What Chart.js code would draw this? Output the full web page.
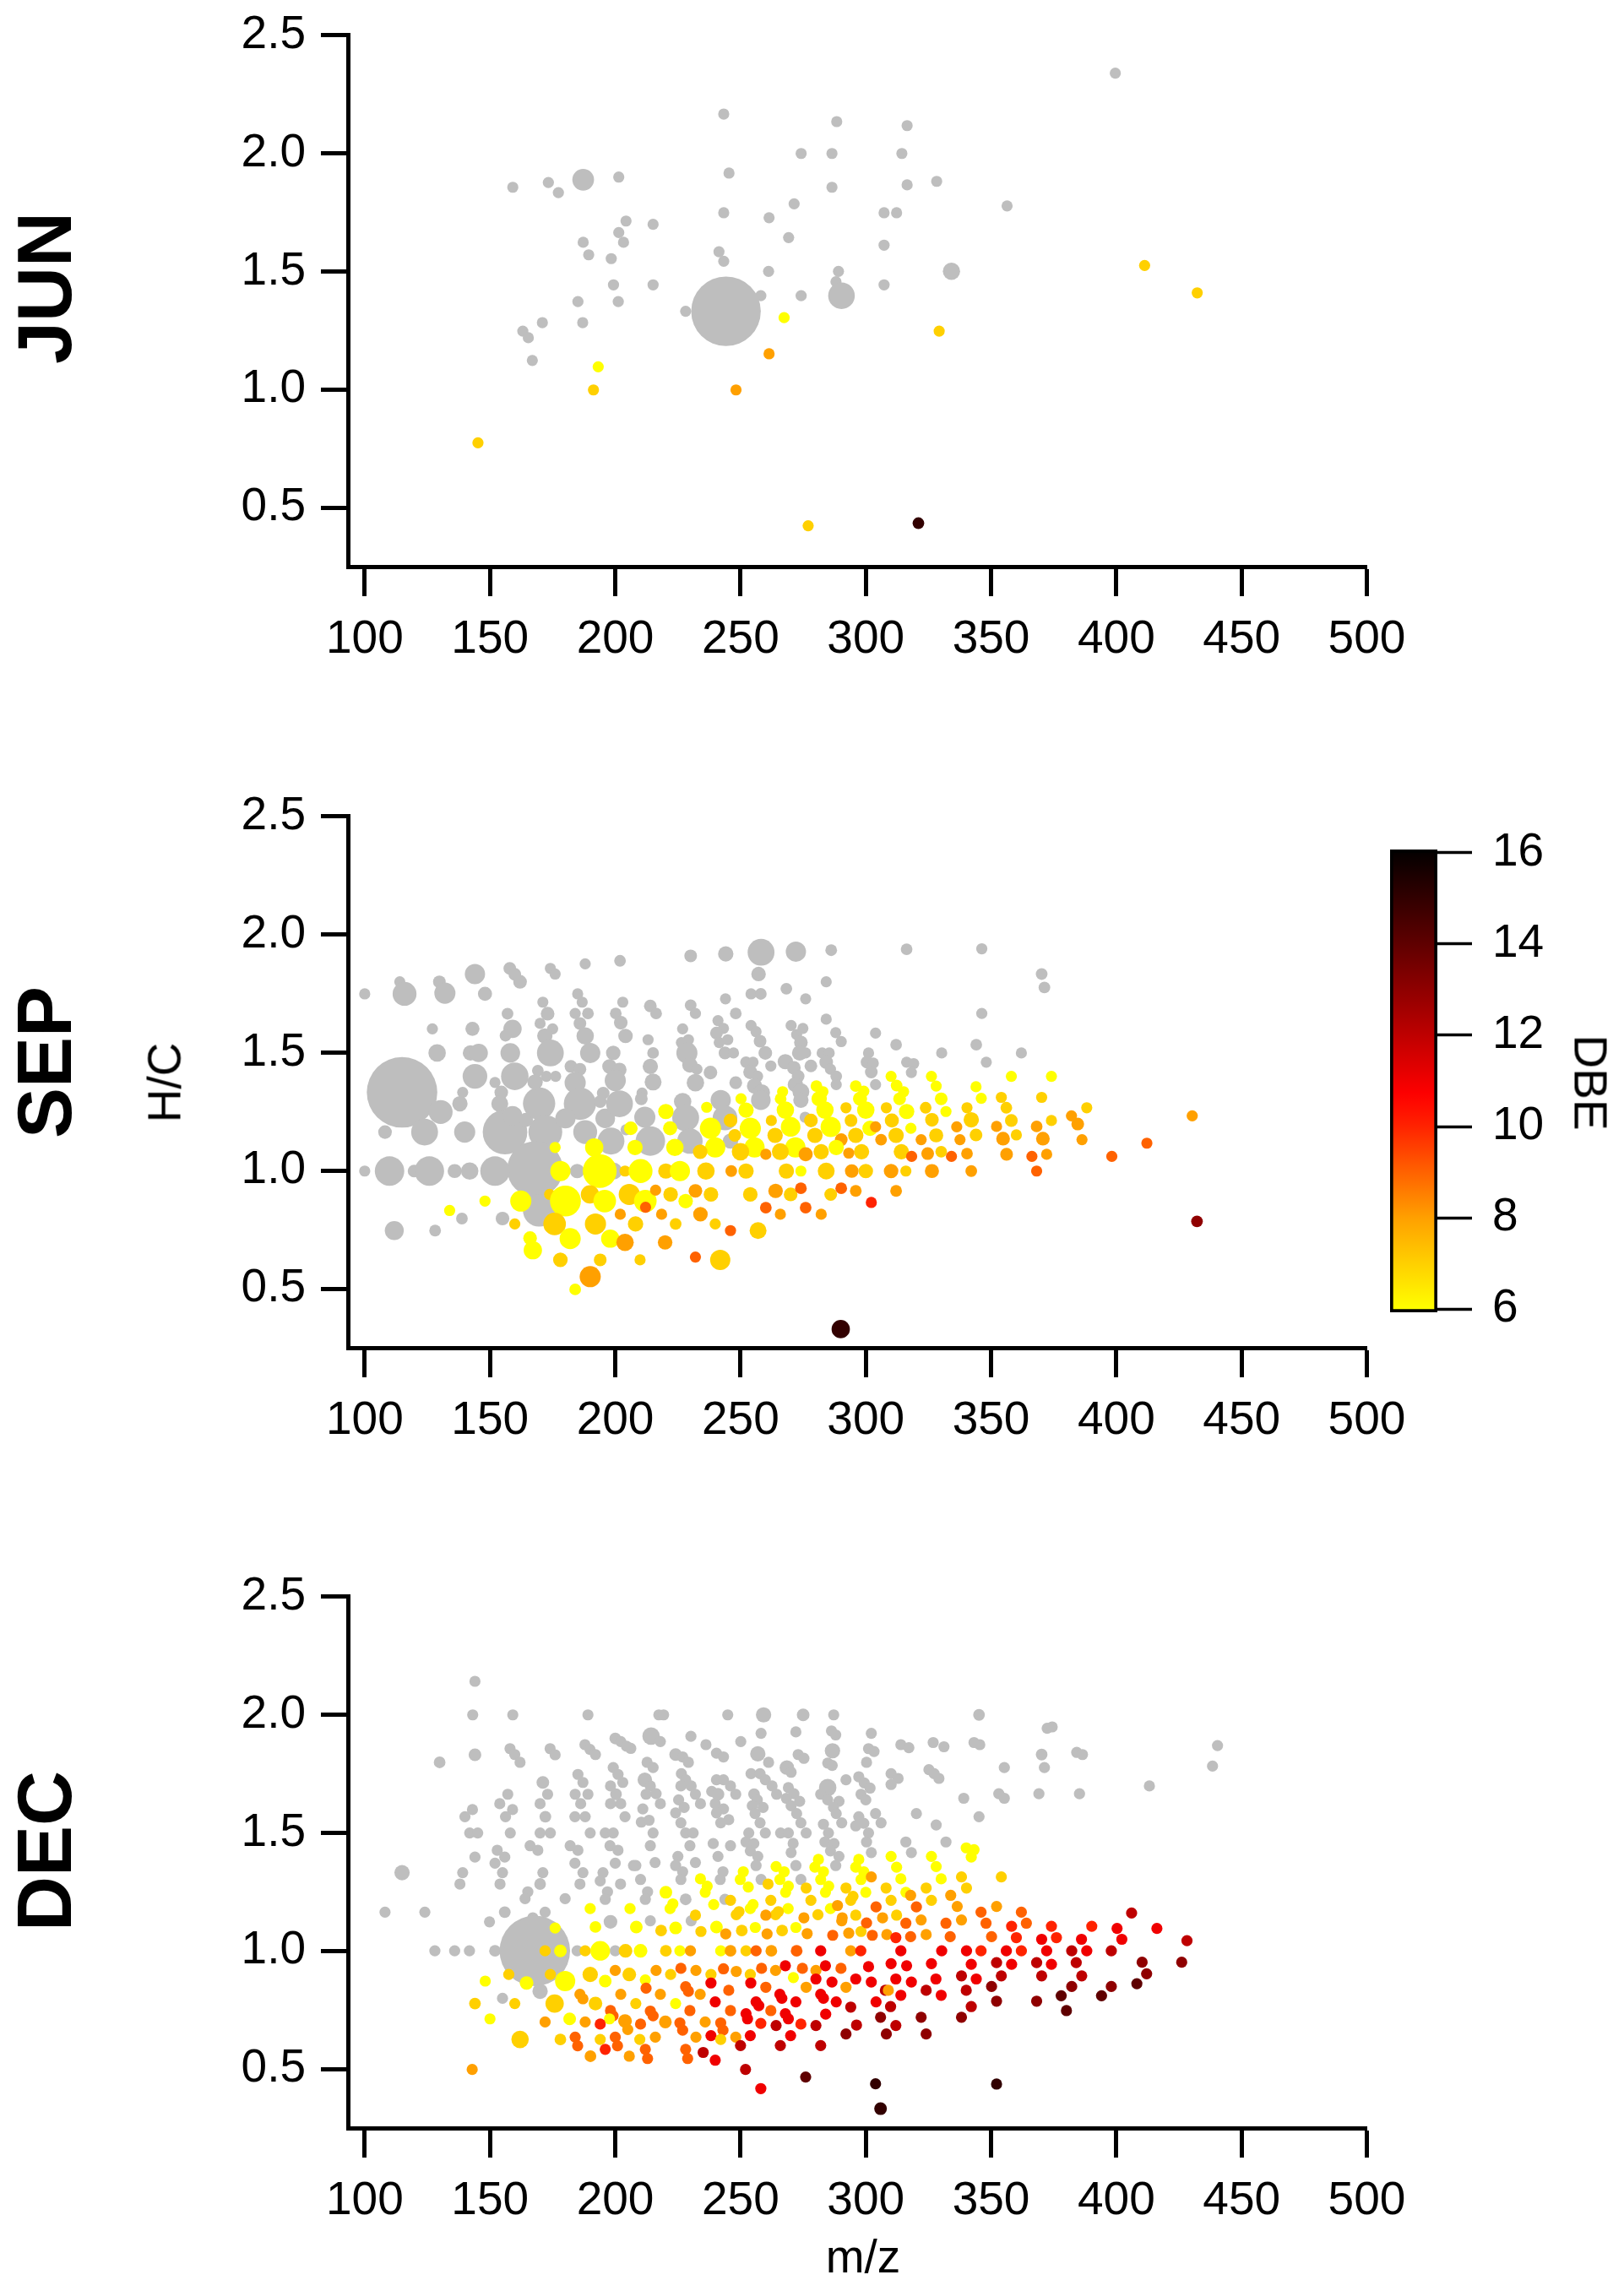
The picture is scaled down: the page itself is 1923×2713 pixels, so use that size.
<!DOCTYPE html>
<html><head><meta charset="utf-8">
<script src="https://cdn.jsdelivr.net/npm/chart.js@4.4.1/dist/chart.umd.min.js"></script>
<style>
html,body{margin:0;padding:0;background:#fff;}
body{width:1923px;height:2713px;position:relative;overflow:hidden;font-family:'Liberation Sans',Arial,sans-serif;}
canvas{position:absolute;}
.lbl{position:absolute;white-space:nowrap;line-height:1;color:#000;font-size:55px;transform:translate(-50%,-50%);}
.row{font-size:90px;font-weight:bold;transform:translate(-50%,-50%) rotate(-90deg);}
.rotl{transform:translate(-50%,-50%) rotate(-90deg);}
.rotr{transform:translate(-50%,-50%) rotate(90deg);}
</style></head><body>
<canvas id="c0" width="1923" height="860" style="left:0;top:0px;width:1923px;height:860px"></canvas>
<canvas id="c1" width="1923" height="860" style="left:0;top:925.3px;width:1923px;height:860px"></canvas>
<canvas id="c2" width="1923" height="860" style="left:0;top:1848.6px;width:1923px;height:860px"></canvas>
<canvas id="cb" width="323" height="650" style="left:1600px;top:960px;width:323px;height:650px"></canvas>
<div class="lbl row" style="left:52.5px;top:341px">JUN</div>
<div class="lbl row" style="left:52.5px;top:1258px">SEP</div>
<div class="lbl row" style="left:52.5px;top:2192px">DEC</div>
<div class="lbl rotl" style="left:195px;top:1282px">H/C</div>
<div class="lbl" style="left:1022px;top:2672px">m/z</div>
<div class="lbl rotr" style="left:1883px;top:1282px">DBE</div>
<script>
// ---- axis ticks ----
const xTicks = [100,150,200,250,300,350,400,450,500];
const yTicks = [0.5,1.0,1.5,2.0,2.5];
const dbeTicks = [6,8,10,12,14,16];
const panelNames = ['JUN','SEP','DEC'];

// ---- data: grey = DBE below colour scale: [m/z, H/C, relative intensity] ----
// ---- coloured: [m/z, H/C, DBE, relative intensity] ----
const junGrey = [
[243.3,2.166,1],[288.4,2.134,1],[316.5,2.117,1],[274.2,1.999,1],[286.5,1.999,1],[314.4,1.999,1],[187.2,1.888,3.8],[159.1,1.856,1],[173.3,1.876,1],[177.3,1.833,1],
[201.4,1.899,1],[245.4,1.916,1],[286.5,1.856,1],[316.5,1.866,1],[328.3,1.881,1],[356.4,1.777,1],[271.4,1.786,1],[243.3,1.748,1],[261.4,1.727,1],[307.3,1.748,1],
[312.3,1.748,1],[204.3,1.713,1],[215.1,1.699,1],[201.4,1.664,1],[203.3,1.623,1],[187.2,1.623,1],[189.4,1.570,1],[198.4,1.554,1],[269.2,1.643,1],[307.3,1.611,1],
[241.4,1.583,1],[243.3,1.543,1],[261.2,1.500,1],[289.1,1.500,1],[334.2,1.500,2.4],[288.1,1.456,1],[290.3,1.397,5.7],[307.3,1.443,1],[199.3,1.443,1],[215.1,1.443,1],
[258.1,1.397,1],[274.2,1.397,1],[185.1,1.372,1],[201.2,1.372,1],[228.1,1.331,1],[244.2,1.331,39],[170.9,1.283,1],[187.0,1.283,1],[163.1,1.247,1],[165.3,1.219,1],
[166.9,1.123,1],[399.6,2.339,1]
];
const junColored = [
[267.4,1.304,6,1],[329.3,1.247,7,1],[261.4,1.151,8,1],[193.2,1.096,6,1],[191.3,0.998,7,1],[248.2,0.998,8,1],[145.2,0.774,7,1],[411.3,1.525,7,1],[432.3,1.409,7,1],
[277.0,0.423,7,1],[321.0,0.434,15,1.1]
];

const sepGrey = [
[100.0,1.748,1],[114.0,1.799,1],[115.9,1.748,4.6],[129.8,1.799,1.3],[132.0,1.751,3.6],[144.0,1.832,3.3],[148.0,1.748,1.6],[157.9,1.856,1.3],[159.9,1.831,1.3],[162.0,1.799,1.5],
[174.1,1.856,1],[176.0,1.832,1],[188.0,1.875,1],[201.9,1.888,1.1],[157.0,1.664,1.1],[127.0,1.600,1],[143.0,1.600,1.6],[159.0,1.600,2.7],[156.2,1.571,1.1],[128.9,1.498,2.45],
[142.2,1.498,1.9],[145.5,1.498,2.7],[158.1,1.498,3.1],[171.1,1.713,1],[173.0,1.664,1.5],[170.0,1.623,1],[175.0,1.600,1],[171.9,1.570,1.9],[174.1,1.498,5.8],[185.0,1.748,1],
[186.8,1.713,1],[184.0,1.665,1],[189.1,1.665,1.1],[185.9,1.623,1.3],[188.0,1.570,2.45],[190.0,1.498,3.3],[203.0,1.713,1],[200.2,1.665,1.1],[202.2,1.626,1.5],[204.1,1.570,1.7],
[199.2,1.498,1.7],[197.7,1.441,1.7],[201.7,1.427,1.6],[200.0,1.381,3.6],[214.0,1.697,1.3],[216.3,1.665,1.1],[213.1,1.554,1],[215.1,1.498,1.1],[214.0,1.441,1.9],[215.1,1.375,2.3],
[114.9,1.331,40],[130.3,1.248,4.6],[123.9,1.163,5.8],[108.1,1.163,1.5],[139.1,1.331,1],[138.0,1.283,1.9],[139.9,1.163,3.6],[144.0,1.399,4.9],[152.0,1.373,1],[154.5,1.331,1.5],
[153.9,1.283,2.3],[159.9,1.399,6.1],[156.0,1.163,16],[159.0,1.232,3.1],[164.4,1.215,1.6],[169.6,1.284,8.4],[169.1,1.423,1.1],[172.5,1.399,1],[176.2,1.399,1],[168.0,1.375,1.9],
[172.1,1.163,9.2],[168.0,1.006,25],[169.6,0.831,8.4],[182.3,1.441,1.3],[185.9,1.429,1.3],[184.0,1.372,3.6],[185.9,1.283,8.4],[180.1,1.221,3.3],[188.0,1.163,4.6],[195.2,1.328,1.3],
[194.0,1.292,1.3],[196.0,1.221,3.1],[201.7,1.283,5.8],[198.3,1.125,5.8],[210.7,1.328,1],[210.4,1.304,1.3],[211.8,1.226,3.6],[214.0,1.125,7],[204.3,1.173,1],
[100.0,0.998,1],[109.9,0.998,7],[119.7,0.998,1.3],[125.8,0.998,7],[135.9,0.998,1.6],[141.9,0.998,2.45],[152.0,0.998,7],[184.8,0.998,1.7],[199.4,0.998,2.3],
[111.8,0.746,2.9],[128.1,0.746,1.1],[138.8,0.797,1.1],[155.0,0.797,1.5],
[230.1,1.909,1.3],[244.1,1.917,1.9],[258.2,1.924,5.8],[272.1,1.927,3.3],[286.2,1.933,1.1],[316.3,1.937,1.1],[257.2,1.832,1.7],[268.3,1.770,1.1],[254.2,1.748,1],[258.1,1.748,1.1],
[284.2,1.799,1],[276.0,1.727,1],[244.0,1.727,1],[230.1,1.700,1.1],[232.0,1.665,1],[248.1,1.665,1.1],[284.2,1.641,1],[241.0,1.635,1],[243.2,1.602,1],[240.4,1.582,1.3],
[244.9,1.554,1],[241.5,1.542,1],[243.8,1.498,1.3],[247.2,1.498,1],[226.9,1.600,1],[229.2,1.554,1],[226.4,1.542,1],[228.6,1.498,3.6],[229.8,1.447,1.9],[232.6,1.429,1],
[232.0,1.372,2.45],[238.0,1.415,1.5],[254.2,1.614,1],[256.2,1.588,1],[257.8,1.548,1.3],[259.9,1.498,1.5],[270.2,1.614,1],[274.9,1.602,1],[272.4,1.576,1],[274.1,1.542,1.5],
[273.6,1.498,1.9],[276.0,1.498,1],[252.2,1.459,1.1],[255.0,1.459,1],[253.9,1.417,1.6],[256.7,1.399,1.1],[255.6,1.358,1.9],[258.4,1.330,2.3],[258.1,1.298,3.1],[262.1,1.443,1],
[267.9,1.461,1.9],[271.3,1.435,1.5],[273.0,1.399,1.3],[271.9,1.364,1.9],[274.1,1.334,2.3],[274.1,1.298,1.9],[278.1,1.443,1.3],[282.6,1.498,1],[285.4,1.498,1],[284.2,1.459,1.5],
[285.9,1.429,1],[288.2,1.399,1.1],[288.2,1.364,1],[290.2,1.546,1],[288.0,1.584,1],[303.9,1.582,1],[301.1,1.498,1],[300.5,1.459,1.3],[303.0,1.455,1],[302.2,1.417,1.3],
[303.9,1.364,1],[312.1,1.533,1.1],[316.3,1.459,1],[319.1,1.453,1],[318.2,1.415,1],[330.3,1.498,1],[248.1,1.372,1.3],[242.1,1.298,3.3],[243.8,1.223,4.9],[226.9,1.292,2.45],
[228.1,1.223,5.8],[229.8,1.125,5.2],[246.0,1.125,1.9],[275.8,1.226,1],
[346.3,1.939,1],[370.2,1.832,1.1],[371.3,1.775,1.1],[346.3,1.665,1],[344.1,1.533,1.1],[348.1,1.459,1],[362.1,1.498,1]
];
const sepColored = [
[176.0,1.098,6,1],[206.2,1.179,6,1.5],[207.9,1.098,6,1.9],[191.6,1.098,6,2.7],[178.1,0.998,6,3.3],[193.8,0.998,6,9.2],[203.9,0.998,7,1],[210.1,0.998,6,4.6],[162.3,0.871,6,3.6],[173.8,0.899,7,1],
[180.1,0.871,6,7.7],[189.9,0.899,7,2.7],[195.8,0.871,6,4.1],[205.6,0.899,7,3.6],[212.0,0.871,6,4.1],[212.1,0.845,9,1],[216.1,0.917,8,1],[202.0,0.815,8,1],[208.1,0.774,7,1.9],
[192.1,0.774,7,3.6],[175.8,0.774,7,4.1],[159.9,0.774,7,1],[148.0,0.871,6,1],[133.9,0.831,6,1],[166.0,0.714,6,1.5],[167.1,0.663,6,2.7],[182.0,0.712,6,3.6],[198.0,0.712,6,2.7],[203.9,0.696,8,2.45],
[178.1,0.622,7,1.7],[194.0,0.622,7,1.3],[209.9,0.622,7,1],[190.0,0.551,8,3.6],[184.0,0.497,6,1.1],
[310.1,1.399,6,1],[326.2,1.399,6,1],[280.3,1.358,6,1.1],[296.0,1.358,6,1.1],[312.3,1.360,6,1.1],[328.1,1.358,6,1],[282.9,1.334,6,1],[299.2,1.336,6,1],[315.1,1.334,6,1],[266.8,1.334,6,1],
[266.0,1.304,6,1.1],[250.2,1.304,6,1],[281.4,1.304,6,1.9],[297.7,1.304,6,1.6],[313.5,1.304,6,1.3],[330.1,1.304,6,1.3],[252.2,1.256,6,1.9],[267.9,1.256,6,2.45],[283.7,1.256,6,2.45],[300.0,1.256,6,2.45],
[316.3,1.250,6,1.9],[332.0,1.250,6,1],[236.5,1.268,6,1],[220.2,1.250,6,1.9],[292.1,1.266,7,1],[308.2,1.266,7,1],[323.9,1.266,7,1.1],[262.3,1.212,7,1],[246.0,1.212,7,1.5],[278.1,1.212,7,1.5],
[294.1,1.212,7,1.3],[310.4,1.212,7,1.6],[326.4,1.215,7,1.5],[221.9,1.179,6,1.6],[238.0,1.179,6,3.6],[253.9,1.179,6,3.6],[270.0,1.185,6,3.1],[286.0,1.185,6,3.3],[301.7,1.179,6,1.9],[318.0,1.179,6,1],
[303.9,1.185,8,1],[336.3,1.185,8,1],[247.7,1.149,7,1.3],[263.8,1.149,7,1.9],[279.7,1.149,7,1.9],[296.0,1.149,7,1.9],[312.1,1.149,7,1.9],[328.1,1.149,7,1.6],[290.2,1.131,8,1.3],[306.1,1.131,8,1.1],
[322.1,1.131,8,1],[337.6,1.131,8,1],[223.8,1.098,6,2.45],[239.9,1.098,6,3.3],[255.6,1.098,6,3.3],[271.9,1.098,6,3.3],[288.2,1.098,6,1.9],[233.9,1.080,7,1.7],[250.0,1.080,7,2.45],[265.9,1.080,7,2.3],
[282.2,1.080,7,1.9],[298.3,1.080,7,1.9],[314.2,1.080,7,1.9],[330.1,1.080,7,1.1],[260.1,1.069,8,1],[276.0,1.069,8,1.6],[293.2,1.074,8,1],[324.7,1.072,8,1.3],[318.3,1.060,9,1],[334.2,1.060,9,1],
[220.2,0.998,7,1.9],[225.8,0.998,6,3.3],[236.2,0.998,7,2.45],[246.3,0.998,8,1.1],[252.2,0.998,7,1.9],[268.3,0.998,7,1.9],[274.1,0.998,6,1],[284.2,0.998,7,2.3],[294.4,0.998,8,1.5],[300.0,0.998,7,1.7],
[310.1,0.998,8,1.7],[316.0,0.998,7,1],[326.4,0.998,8,1.6],[222.1,0.899,7,1.7],[228.1,0.871,6,1.7],[232.0,0.914,8,1.5],[238.2,0.899,7,1.7],[253.9,0.899,7,1.7],[264.0,0.914,8,1.7],[270.0,0.899,7,1.5],
[274.1,0.925,9,1.1],[286.0,0.899,7,1.3],[290.2,0.925,9,1.1],[296.0,0.914,8,1.1],[312.1,0.914,8,1.1],[302.2,0.865,10,1],[218.5,0.815,8,1],[234.0,0.815,8,1.7],[260.1,0.843,9,1.1],[265.9,0.815,8,1],
[276.0,0.843,9,1.1],[282.2,0.815,8,1],[224.1,0.774,7,1.1],[239.9,0.774,7,1],[246.0,0.746,9,1],[257.0,0.746,7,2.3],[219.9,0.696,8,1.7],[232.0,0.634,9,1],[241.9,0.622,7,3.3],[290.0,0.329,15,2.7],
[358.1,1.399,6,1],[374.1,1.399,6,1],[344.0,1.355,6,1],[346.1,1.306,6,1],[354.1,1.310,7,1],[370.2,1.310,7,1],[340.4,1.266,7,1],[356.1,1.266,7,1.1],[388.2,1.266,7,1],[342.1,1.215,7,1.9],
[358.1,1.212,7,1.3],[374.1,1.212,7,1],[382.1,1.232,8,1],[384.6,1.197,8,1.3],[352.2,1.187,8,1],[368.2,1.187,8,1.1],[344.0,1.151,7,1.3],[360.1,1.151,7,1],[354.8,1.135,8,1.5],[370.7,1.135,8,1.5],
[386.3,1.131,8,1],[340.4,1.072,8,1.1],[356.2,1.069,8,1.3],[372.2,1.069,8,1],[366.3,1.060,9,1],[398.2,1.060,9,1],[412.2,1.116,9,1],[430.3,1.232,8,1],[342.1,0.998,8,1.1],[368.2,0.998,9,1],
[432.2,0.785,13,1.1]
];

const decGrey = [
[144.0,2.141,1],[143.1,1.999,1],[159.1,1.999,1],[189.1,1.999,1],[129.9,1.798,1.1],[144.0,1.830,1.3],[158.0,1.856,1],[159.9,1.831,1],[162.0,1.798,1],[174.0,1.856,1],
[176.0,1.830,1],[187.9,1.873,1],[189.9,1.853,1],[192.1,1.831,1],[200.0,1.899,1.1],[202.2,1.886,1],[204.5,1.866,1],[206.2,1.857,1],[171.1,1.713,1.3],[173.0,1.663,1],
[185.1,1.747,1],[187.1,1.713,1],[184.0,1.663,1],[189.1,1.663,1],[186.2,1.623,1],[183.9,1.568,1],[188.0,1.568,1],[199.2,1.776,1],[201.1,1.747,1],[203.0,1.713,1],
[198.1,1.698,1],[200.3,1.663,1.1],[198.1,1.623,1],[202.2,1.623,1],[203.9,1.568,1],[157.1,1.663,1],[153.9,1.623,1],[159.0,1.598,1],[156.2,1.568,1],[143.0,1.598,1],
[140.0,1.568,1],[170.0,1.623,1],[172.1,1.568,1.1],[141.9,1.499,1],[145.1,1.499,1],[158.1,1.499,1],[170.0,1.499,1],[174.1,1.499,1],[190.0,1.499,1],[196.0,1.499,1],
[199.2,1.499,1],[166.0,1.445,1],[169.1,1.426,1],[182.0,1.445,1],[185.1,1.426,1],[197.9,1.445,1],[201.1,1.426,1],[152.9,1.426,1],[155.9,1.397,1],[144.0,1.397,1],
[152.0,1.371,1],[155.0,1.331,1],[154.0,1.283,1],[139.1,1.331,1],[138.0,1.283,1],[114.9,1.331,1.9],[171.1,1.331,1],[170.0,1.283,1.1],[183.9,1.371,1],[187.1,1.331,1],
[185.9,1.283,1],[200.0,1.371,1],[195.1,1.331,1],[194.0,1.296,1],[202.1,1.283,1],[196.9,1.250,1],[196.0,1.218,1],[207.3,1.361,1],[165.1,1.250,1],[164.0,1.221,1],
[180.0,1.221,1],[108.1,1.164,1],[124.0,1.164,1],[155.9,1.164,1.1],[172.0,1.164,1],[167.1,1.140,1],[149.8,1.123,1],[198.1,1.123,1.5],[128.0,1.000,1],[135.9,1.000,1],
[141.8,1.000,1],[152.0,1.000,1.1],[184.8,1.000,1],[200.0,1.000,1],[167.9,1.000,40],[170.0,0.829,1.9],[155.0,0.799,1],
[217.4,1.999,1],[219.3,1.999,1],[244.9,1.999,1],[259.2,1.999,1.9],[275.0,1.999,1.3],[287.2,1.999,1],[214.3,1.909,2.45],[218.0,1.886,1],[230.2,1.908,1],[236.2,1.873,1],
[250.1,1.886,1],[258.2,1.921,1],[272.1,1.927,1],[286.3,1.931,1],[288.0,1.914,1],[302.2,1.921,1],[224.1,1.831,1.3],[226.9,1.821,1],[229.2,1.798,1],[240.4,1.837,1],
[243.2,1.821,1],[256.9,1.834,1.9],[261.2,1.798,1],[273.0,1.831,1],[275.3,1.815,1],[286.7,1.847,1.9],[284.8,1.795,1],[286.6,1.785,1],[301.1,1.856,1],[303.3,1.844,1],
[300.3,1.798,1],[314.0,1.873,1],[317.2,1.860,1],[326.9,1.882,1],[331.2,1.864,1],[212.7,1.798,1],[215.1,1.776,1],[211.8,1.724,1.7],[214.0,1.698,1],[216.3,1.665,1],
[212.3,1.663,1],[226.4,1.750,1],[228.1,1.724,1],[226.2,1.698,1],[230.3,1.698,1],[232.0,1.663,1],[225.3,1.639,1],[227.5,1.607,1],[224.1,1.584,1],[226.2,1.542,1],
[218.0,1.623,1],[234.0,1.623,1],[211.0,1.601,1],[210.4,1.545,1],[213.5,1.553,1],[215.1,1.499,1],[214.0,1.445,1],[240.4,1.724,1],[243.2,1.724,1],[246.0,1.698,1],
[238.5,1.675,1],[241.0,1.663,1.3],[248.1,1.663,1],[239.9,1.623,1],[243.2,1.601,1],[240.4,1.584,1],[245.3,1.555,1],[242.1,1.542,1],[254.2,1.750,1],[257.8,1.750,1],
[259.9,1.724,1],[262.6,1.698,1],[264.4,1.663,1],[255.4,1.663,1.1],[256.7,1.639,1],[254.7,1.614,1],[259.0,1.607,1],[255.8,1.581,1],[257.8,1.542,1],[268.5,1.776,1.7],
[270.2,1.756,1],[269.1,1.691,1],[271.3,1.665,1],[268.3,1.646,1],[273.6,1.633,1],[270.2,1.614,1],[272.4,1.581,1],[274.1,1.542,1],[284.8,1.691,2.45],[282.0,1.663,1],
[284.8,1.639,1],[289.3,1.633,1],[287.1,1.607,1],[288.2,1.581,1],[290.4,1.542,1],[292.1,1.724,1],[297.2,1.737,1],[299.4,1.711,1],[301.7,1.689,1],[298.1,1.663,1],
[300.0,1.639,1],[297.2,1.568,1],[299.2,1.540,1],[296.0,1.529,1],[303.9,1.581,1],[306.1,1.542,1],[310.1,1.750,1],[312.9,1.730,1],[310.1,1.704,1],[320.2,1.581,1],
[325.2,1.767,1],[327.3,1.750,1],[329.2,1.730,1],[328.1,1.533,1],[332.0,1.461,1],[283.1,1.536,1],[285.1,1.499,1],[283.7,1.461,1],[287.3,1.454,1],[285.9,1.423,1],
[289.3,1.400,1],[288.0,1.361,1],[301.1,1.499,1],[300.3,1.461,1],[302.2,1.416,1],[316.0,1.461,1],[318.2,1.416,1],[253.3,1.499,1],[252.2,1.461,1],[255.3,1.454,1],
[253.9,1.423,1],[256.9,1.400,1],[256.2,1.361,1],[259.9,1.499,1],[266.0,1.499,1],[269.1,1.499,1],[276.2,1.499,1],[271.0,1.455,1],[270.2,1.416,1],[272.1,1.361,1],
[274.1,1.302,1],[228.1,1.499,1],[231.1,1.499,1],[229.8,1.445,1],[225.0,1.400,1],[224.1,1.361,1],[232.0,1.374,1],[226.9,1.335,1],[226.2,1.302,1],[239.1,1.454,1],
[241.0,1.400,1],[246.0,1.445,1],[243.0,1.335,1],[241.9,1.302,1],[215.9,1.374,1],[208.2,1.361,1],[210.1,1.302,1],[212.9,1.250,1],[212.0,1.218,1],[214.0,1.127,1],
[228.1,1.218,1.1],[230.3,1.127,1],[243.8,1.218,1],[258.2,1.302,1],
[345.2,1.999,1.1],[372.4,1.942,1],[374.4,1.948,1],[343.2,1.882,1],[345.5,1.873,1],[370.2,1.831,1.1],[371.3,1.776,1],[355.3,1.776,1],[384.2,1.840,1],[386.5,1.831,1],
[440.4,1.869,1],[438.4,1.782,1],[413.2,1.698,1],[339.1,1.646,1],[353.1,1.665,1],[355.3,1.646,1],[369.1,1.665,1],[385.3,1.665,1],[345.2,1.568,1]
];
const decColored = [
[190.0,1.179,6,1],[205.9,1.179,6,1],[192.1,1.101,6,1.1],[176.0,1.097,6,1],[172.0,1.000,7,1],[178.1,1.000,6,1.3],[188.0,1.000,7,1],[194.0,1.000,6,3.1],[204.1,1.000,7,1.5],[200.0,0.917,8,1],
[205.6,0.900,7,1.5],[190.0,0.900,7,1.9],[196.0,0.872,6,1.3],[180.0,0.872,6,3.3],[174.1,0.900,7,1],[157.5,0.900,7,1],[164.6,0.864,6,1.5],[148.1,0.872,6,1],[185.9,0.816,8,1],[187.1,0.797,8,1],
[192.1,0.777,7,1.5],[202.2,0.816,8,1],[144.0,0.777,7,1.1],[159.9,0.777,7,1],[175.8,0.777,7,2.7],[198.1,0.747,9,1],[199.1,0.725,9,1],[197.7,0.712,6,1],[194.0,0.690,10,1],[188.0,0.699,8,1],
[203.9,0.703,8,1.5],[205.0,0.667,8,1],[150.0,0.712,6,1],[181.8,0.712,6,1.3],[172.0,0.699,8,1],[162.0,0.625,7,2.45],[178.1,0.625,7,1.1],[184.0,0.635,9,1],[185.0,0.598,9,1],[194.0,0.625,7,1],
[200.0,0.635,9,1],[200.9,0.598,9,1],[196.0,0.583,10,1],[190.1,0.554,8,1.1],[205.6,0.554,8,1],[142.9,0.498,8,1],
[281.1,1.387,6,1],[297.2,1.387,6,1],[310.1,1.400,6,1],[326.2,1.400,6,1],[279.7,1.354,6,1],[296.0,1.354,6,1],[312.3,1.354,6,1],[328.1,1.357,6,1],[264.2,1.357,6,1],[251.1,1.335,6,1],
[249.9,1.302,6,1],[267.4,1.335,6,1],[265.7,1.302,6,1],[283.1,1.335,6,1],[282.0,1.302,6,1],[299.2,1.335,6,1],[298.1,1.302,6,1],[314.0,1.305,6,1],[330.1,1.305,6,1],[302.2,1.313,8,1],
[234.0,1.305,6,1],[236.7,1.274,6,1],[235.9,1.248,6,1],[253.1,1.270,6,1],[261.0,1.283,7,1],[269.1,1.274,6,1],[268.0,1.248,6,1],[276.2,1.266,7,1],[285.2,1.274,6,1],[283.9,1.248,6,1],
[292.1,1.266,7,1],[300.0,1.248,6,1],[308.1,1.266,7,1],[316.0,1.248,6,1],[324.1,1.266,7,1],[220.2,1.248,6,1.3],[246.0,1.214,7,1],[239.3,1.196,6,1],[262.1,1.214,7,1],[278.1,1.214,7,1],
[294.0,1.214,7,1],[294.9,1.231,7,1],[310.1,1.214,7,1],[326.2,1.214,7,1],[317.9,1.235,8,1],[333.9,1.235,8,1],[223.0,1.199,6,1],[221.9,1.179,6,1],[255.0,1.196,6,1],[253.9,1.179,6,1],
[269.0,1.179,6,1],[285.9,1.179,6,1],[288.7,1.192,8,1],[232.0,1.151,7,1],[248.3,1.153,7,1],[249.4,1.166,7,1],[264.0,1.153,7,1],[265.1,1.166,7,1],[260.1,1.151,8,1],[280.9,1.153,7,1],
[296.0,1.151,7,1],[304.1,1.186,9,1],[312.3,1.151,7,1],[320.2,1.186,9,1],[290.6,1.140,8,1],[290.4,1.127,8,1],[275.3,1.140,8,1],[306.7,1.140,8,1],[322.1,1.131,8,1],[208.4,1.101,6,1.3],
[218.3,1.086,7,1.1],[224.1,1.097,6,1.3],[234.2,1.082,7,1],[240.4,1.101,6,1.3],[250.5,1.086,7,1.1],[255.9,1.099,6,1],[266.6,1.086,7,1.1],[272.1,1.099,6,1],[276.6,1.073,8,1],[260.6,1.072,8,1],
[244.1,1.072,8,1],[286.8,1.066,9,1],[293.2,1.075,8,1],[298.1,1.082,7,1],[300.3,1.118,9,1],[302.6,1.066,9,1],[308.4,1.069,8,1],[312.0,1.056,10,1],[316.0,1.117,9,1],[317.9,1.060,9,1],
[324.1,1.069,8,1],[332.0,1.117,9,1],[333.7,1.060,9,1],
[210.1,1.000,6,1.5],[220.2,1.000,7,1.1],[225.8,1.000,6,1],[230.0,1.000,8,1],[242.1,1.000,6,1],[246.0,1.000,8,1.1],[252.2,1.000,7,1],[256.2,1.000,9,1],[262.3,1.000,8,1.1],[272.4,1.000,9,1.1],
[282.0,1.000,11,1],[294.0,1.000,8,1],[298.0,1.000,10,1],[314.0,1.000,11,1],[330.3,1.000,11,1],
[212.0,0.877,6,1],[216.3,0.917,8,1],[222.1,0.900,7,1],[226.2,0.926,9,1],[232.2,0.917,8,1],[238.2,0.900,7,1],[243.2,0.924,9,1],[248.3,0.913,8,1],[253.9,0.900,7,1],[258.4,0.926,9,1],
[264.0,0.917,8,1],[267.9,0.937,11,1],[271.1,0.887,6,1],[274.7,0.926,9,1],[280.1,0.917,8,1],[283.9,0.937,11,1],[290.1,0.926,9,1],[301.1,0.933,11,1],[310.1,0.946,11,1],[316.3,0.937,11,1],
[326.2,0.946,11,1],[280.1,0.881,11,1],[286.5,0.868,11,1],[296.0,0.881,11,1],[302.2,0.868,11,1],[312.0,0.881,11,1],[318.2,0.868,11,1],[328.0,0.881,11,1],
[212.3,0.842,9,1],[218.0,0.816,8,1],[228.1,0.848,9,1],[229.2,0.829,9,1],[233.9,0.816,8,1],[238.2,0.864,11,1],[245.3,0.833,9,1],[254.1,0.864,11,1],[260.1,0.846,9,1],[265.7,0.816,11,1],
[266.5,0.799,11,1],[276.2,0.846,8,1],[282.0,0.816,11,1],[283.1,0.799,11,1],[292.1,0.846,8,1],[288.2,0.784,11,1],[307.8,0.833,12,1],[309.0,0.833,8,1],[314.0,0.812,11,1],[324.1,0.833,12,1],
[330.1,0.812,11,1],[208.2,0.777,7,1],[224.1,0.777,6,1],[214.0,0.745,9,1],[215.1,0.725,9,1],[229.8,0.747,9,1],[239.9,0.784,11,1],[246.0,0.747,9,1],[256.2,0.784,11,1],[257.3,0.768,11,1],
[262.1,0.747,9,1],[272.1,0.784,11,1],[267.9,0.734,11,1],[269.1,0.712,11,1],[284.0,0.732,11,1],[294.0,0.762,12,1],[304.1,0.784,11,1],[309.9,0.764,12,1],[305.9,0.719,13,1],[322.1,0.719,13,1],
[210.1,0.690,9,1],[220.0,0.699,8,1.3],[225.8,0.695,9,1],[226.9,0.664,9,1],[235.9,0.699,8,1],[242.1,0.695,9,1],[243.0,0.664,9,1],[252.2,0.734,11,1],[252.8,0.712,11,1],[258.1,0.693,10,1],
[264.2,0.684,12,1],[274.1,0.690,10,1],[280.1,0.684,12,1],[296.3,0.686,12,1],[312.0,0.684,12,1],[209.8,0.625,7,1],[216.0,0.635,8,1],[232.2,0.635,8,1],[238.2,0.641,11,1],[242.1,0.625,7,1],
[248.1,0.635,8,1],[253.9,0.641,11,1],[270.0,0.641,11,1],[292.1,0.648,13,1],[308.2,0.648,13,1],[324.1,0.648,13,1],[212.0,0.583,9,1],[212.9,0.544,9,1],[228.1,0.583,9,1],[228.9,0.544,9,1],
[235.1,0.570,12,1],[239.9,0.537,11,1],[250.0,0.599,12,1],[265.9,0.599,12,1],[282.0,0.599,12,1],[252.0,0.498,12,1],[258.1,0.417,11,1],[276.0,0.466,14,1],[303.9,0.437,15,1],[305.9,0.332,15,1.3],
[340.1,1.436,6,1],[343.2,1.428,6,1],[342.1,1.397,6,1],[338.2,1.313,7,1],[354.1,1.313,7,1],[340.2,1.266,7,1],[336.5,1.188,8,1],[352.2,1.188,8,1],[338.2,1.131,8,1],[346.0,1.164,9,1],
[362.1,1.164,9,1],[348.0,1.117,9,1],[364.1,1.117,9,1],[350.2,1.060,9,1],[358.2,1.104,10,1],[374.1,1.104,10,1],[390.2,1.104,10,1],[360.1,1.056,10,1],[370.2,1.049,11,1],[376.1,1.056,10,1],
[386.1,1.049,11,1],[406.1,1.160,12,1],[400.3,1.095,11,1],[402.2,1.049,11,1],[416.2,1.095,11,1],[428.2,1.043,12,1],[340.2,1.000,11,1],[346.0,1.000,10,1],[356.1,1.000,11,1],[362.1,1.000,10,1],
[372.2,1.000,11,1],[382.2,1.000,12,1],[388.2,1.000,11,1],[398.0,1.000,12,1],[342.1,0.943,11,1],[352.2,0.950,12,1],[358.2,0.943,11,1],[368.2,0.950,12,1],[374.1,0.943,11,1],[384.0,0.950,12,1],
[410.3,0.952,13,1],[426.1,0.952,13,1],[338.2,0.894,12,1],[344.1,0.881,11,1],[354.1,0.894,12,1],[370.2,0.894,12,1],[386.2,0.894,12,1],[412.1,0.903,13,1],[340.1,0.833,12,1],[350.2,0.849,13,1],
[382.2,0.849,13,1],[398.0,0.849,13,1],[408.2,0.861,14,1],[378.0,0.810,14,1],[394.1,0.810,14,1],[342.1,0.764,12,1],[352.2,0.787,13,1],[368.2,0.787,13,1],[380.1,0.747,14,1],[338.2,0.719,13,1],
[352.2,0.436,15,1]
];

// ---- styling ----
const FONT = "'Liberation Sans', Arial, sans-serif";
const GREY = 'rgb(190,190,190)';
const cmap = [[6,[255,255,0]],[8,[255,160,0]],[10,[255,35,0]],[10.7,[255,0,0]],[12,[190,0,0]],[14,[95,0,0]],[16,[5,0,0]]];
function dbeColor(v){
  if (v <= cmap[0][0]) return 'rgb(255,255,0)';
  for (let i=1;i<cmap.length;i++){
    if (v <= cmap[i][0]){
      const a=cmap[i-1], b=cmap[i], t=(v-a[0])/(b[0]-a[0]);
      const c=a[1].map((x,k)=>Math.round(x+(b[1][k]-x)*t));
      return 'rgb('+c.join(',')+')';
    }
  }
  return 'rgb(5,0,0)';
}
function radius(I){ return 6.6*Math.sqrt(I); }
function noPad(s){ s.paddingTop=0; s.paddingBottom=0; s.paddingLeft=0; s.paddingRight=0; }

const panels = [
  {id:'c0', grey:junGrey, col:junColored},
  {id:'c1', grey:sepGrey, col:sepColored},
  {id:'c2', grey:decGrey, col:decColored}
];

panels.forEach(p=>{
  const pts = p.grey.map(d=>({x:d[0],y:d[1],r:radius(d[2])})).concat(p.col.map(d=>({x:d[0],y:d[1],r:radius(d[3])})));
  const cols = p.grey.map(()=>GREY).concat(p.col.map(d=>dbeColor(d[2])));
  new Chart(document.getElementById(p.id), {
    type:'bubble',
    data:{datasets:[{data:pts, backgroundColor:cols, borderWidth:0, hoverBorderWidth:0, clip:false}]},
    options:{
      responsive:false, animation:false, devicePixelRatio:1, events:[],
      layout:{autoPadding:false, padding:{left:0,right:304.5,top:41.6,bottom:0}},
      plugins:{legend:{display:false}, tooltip:{enabled:false}},
      scales:{
        x:{type:'linear', min:93.3, max:500,
           afterBuildTicks:s=>{ s.ticks = xTicks.map(v=>({value:v})); },
           afterFit:s=>{ s.height = 189; noPad(s); },
           ticks:{font:{family:FONT,size:55}, color:'#000', padding:19, maxRotation:0, autoSkip:false, callback:v=>String(v)},
           grid:{display:true, drawOnChartArea:false, drawTicks:true, tickLength:35, tickWidth:5, tickColor:'#000'},
           border:{display:true, width:5, color:'#000'}},
        y:{type:'linear', min:0.25, max:2.5,
           afterBuildTicks:s=>{ s.ticks = yTicks.map(v=>({value:v})); },
           afterFit:s=>{ s.width = 412; noPad(s); },
           ticks:{font:{family:FONT,size:55}, color:'#000', padding:18, autoSkip:false, callback:v=>Number(v).toFixed(1)},
           grid:{display:true, drawOnChartArea:false, drawTicks:true, tickLength:32, tickWidth:5, tickColor:'#000'},
           border:{display:true, width:5, color:'#000'}}
      }
    }
  });
});

// ---- colour bar ----
new Chart(document.getElementById('cb'), {
  type:'bar',
  data:{labels:['DBE'], datasets:[{
    data:[[5.93,16.07]],
    backgroundColor:(ctx)=>{
      const ch=ctx.chart; if(!ch.chartArea) return 'rgb(255,255,0)';
      const y=ch.scales.y;
      const g=ch.ctx.createLinearGradient(0,y.getPixelForValue(6),0,y.getPixelForValue(16));
      for(let i=0;i<=40;i++){ g.addColorStop(i/40, dbeColor(6+i*0.25)); }
      return g;
    },
    borderColor:'#000', borderWidth:4, borderSkipped:false, barPercentage:1, categoryPercentage:1
  }]},
  options:{
    responsive:false, animation:false, devicePixelRatio:1, events:[],
    layout:{autoPadding:false, padding:{left:46,right:0,top:46,bottom:56}},
    plugins:{legend:{display:false}, tooltip:{enabled:false}},
    scales:{
      x:{display:false},
      y:{position:'right', min:5.93, max:16.07,
         afterBuildTicks:s=>{ s.ticks = dbeTicks.map(v=>({value:v})); },
         afterFit:s=>{ s.width = 221; noPad(s); },
         ticks:{font:{family:FONT,size:55}, color:'#000', padding:24, autoSkip:false},
         grid:{display:true, drawOnChartArea:false, drawTicks:true, tickLength:41, tickWidth:3.5, tickColor:'#000'},
         border:{display:false}}
    }
  }
});
</script>
</body></html>
